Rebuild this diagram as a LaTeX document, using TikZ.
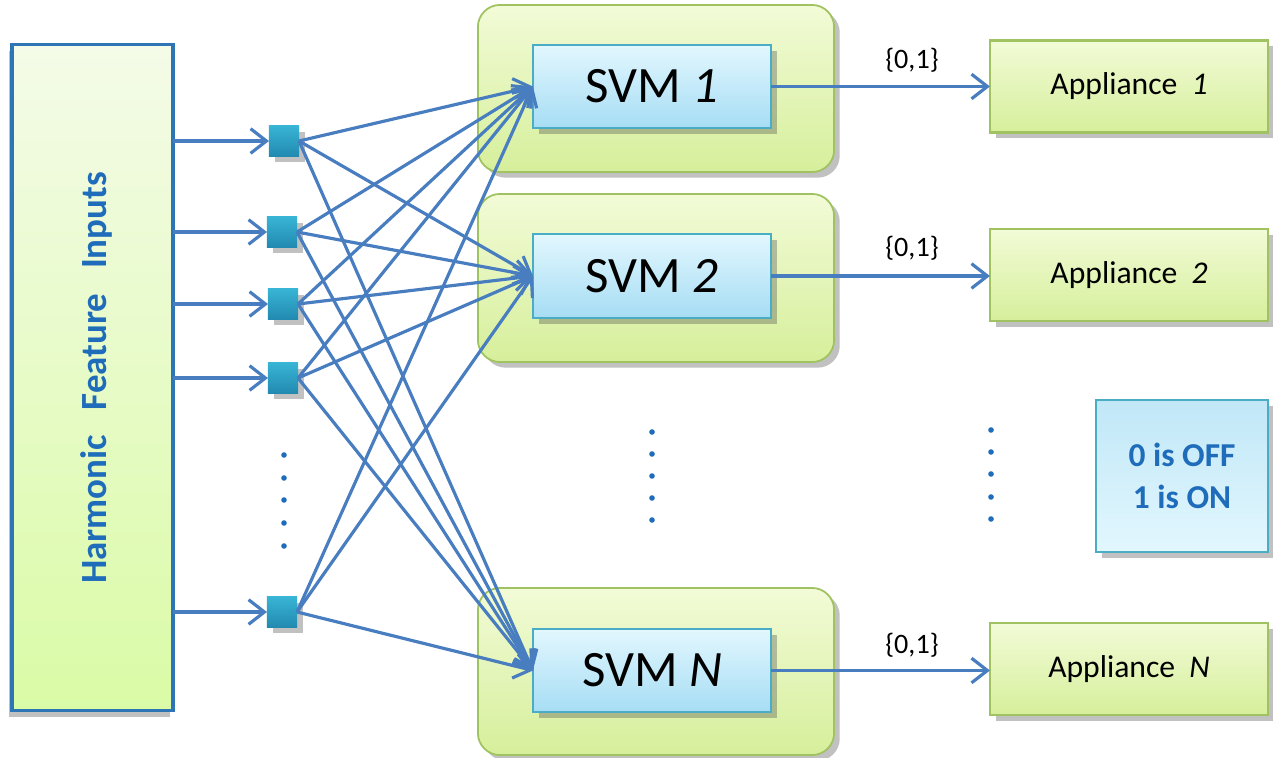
\documentclass[tikz,border=0pt]{standalone}
\usepackage{fontspec}
\setmainfont{Carlito}
\usetikzlibrary{arrows.meta,shadows}
\definecolor{lnblue}{RGB}{72,125,192}
\definecolor{txtblue}{RGB}{30,108,186}
\definecolor{grnborder}{RGB}{160,194,96}
\definecolor{grntop}{RGB}{242,251,215}
\definecolor{grnbot}{RGB}{214,239,155}
\definecolor{bluborder}{RGB}{75,172,198}
\definecolor{blutop}{RGB}{226,247,254}
\definecolor{blubot}{RGB}{166,221,244}
\definecolor{sqtop}{RGB}{56,180,212}
\definecolor{sqbot}{RGB}{34,138,176}
\definecolor{leftborder}{RGB}{46,117,182}
\definecolor{lefttop}{RGB}{244,251,232}
\definecolor{leftbot}{RGB}{218,251,166}
\tikzset{
  shad/.style={drop shadow={shadow xshift=1.6pt, shadow yshift=-1.6pt, opacity=0.35, fill=black!70}},
  leftbox/.style={draw=leftborder, line width=0.9pt, top color=lefttop, bottom color=leftbot, drop shadow={shadow xshift=-0.8pt, shadow yshift=-1.8pt, opacity=0.35, fill=black!70}, inner sep=0pt, outer sep=0pt},
  sq/.style={top color=sqtop, bottom color=sqbot, minimum width=0.3cm, minimum height=0.3cm, inner sep=0pt, outer sep=0pt, shad},
  outerbox/.style={draw=grnborder, line width=0.5pt, top color=grntop, bottom color=grnbot, rounded corners=0.22cm, minimum width=3.56cm, minimum height=1.67cm, inner sep=0pt, outer sep=0pt, shad},
  svmbox/.style={draw=bluborder, line width=0.7pt, top color=blutop, bottom color=blubot, minimum width=2.38cm, minimum height=0.83cm, inner sep=0pt, outer sep=0pt, font=\fontsize{14.5}{17}\selectfont, shad},
  appbox/.style={draw=grnborder, line width=0.6pt, top color=grntop, bottom color=grnbot, minimum width=2.78cm, minimum height=0.92cm, inner sep=0pt, outer sep=0pt, font=\fontsize{9}{11}\selectfont, shad},
  legbox/.style={draw=bluborder, line width=0.6pt, top color=blubot!70!white, bottom color=blutop, minimum width=1.72cm, minimum height=1.52cm, inner sep=0pt, outer sep=0pt, align=center, text=txtblue, font=\fontsize{9.5}{12}\selectfont\bfseries, shad},
  arr/.style={draw=lnblue, line width=0.9pt, -{Straight Barb[length=4.5pt,width=7pt,line width=0.9pt]}},
  lbl/.style={font=\fontsize{8}{10}\selectfont, inner sep=0pt},
  dotc/.style={fill=txtblue}
}
\begin{document}
\begin{tikzpicture}[x=0.01cm, y=-0.01cm]
\useasboundingbox (0,0) rectangle (1273,758);
% left input box
\node[leftbox, minimum width=1.61cm, minimum height=6.65cm] (inp) at (92.5,377.5) {};
\node[rotate=90, text=txtblue, font=\fontsize{10.5}{12}\selectfont\bfseries, inner sep=0pt] (inptxt) at (96,378)
  {Harmonic\hspace{7pt}Feature\hspace{7pt}Inputs};
% squares
\node[sq] (s1) at (284,141) {};
\node[sq] (s2) at (282,232) {};
\node[sq] (s3) at (283,304) {};
\node[sq] (s4) at (283,378) {};
\node[sq] (s5) at (282,612) {};
\foreach \s in {s1,s2,s3,s4,s5}{
  \draw[arr] (inp.east |- \s) -- (\s.west);
}
\foreach \yy in {455,478,500,523,546}{ \fill[dotc] (284,\yy) circle (2.8); }
% SVM groups
\node[outerbox] (o1) at (656,88.5) {};
\node[outerbox, minimum height=1.68cm] (o2) at (656,278) {};
\node[outerbox] (oN) at (656,671.5) {};
\node[svmbox] (i1) at (652,86.5) {SVM \textit{1}};
\node[svmbox, minimum height=0.84cm] (i2) at (652,276) {SVM \textit{2}};
\node[svmbox] (iN) at (652,670.5) {SVM \textit{N}};
\foreach \yy in {432,454,476,498,520}{ \fill[dotc] (652,\yy) circle (2.8); }
% fan connections
\foreach \s in {s1,s2,s3,s4,s5}{
  \foreach \t in {i1,i2,iN}{
    \draw[arr] (\s.east) -- (\t.west);
  }
}
% appliances
\node[appbox] (a1) at (1129,86.5) {Appliance\hspace{4pt}\textit{1}};
\node[appbox] (a2) at (1129,275) {Appliance\hspace{4pt}\textit{2}};
\node[appbox] (aN) at (1129,669) {Appliance\hspace{4pt}\textit{N}};
\draw[arr] (i1.east) -- (a1.west |- i1.east);
\draw[arr] (i2.east) -- (a2.west |- i2.east);
\draw[arr] (iN.east) -- (aN.west |- iN.east);
\node[lbl] (l1) at (912,60) {\{0,1\}};
\node[lbl] (l2) at (912,248) {\{0,1\}};
\node[lbl] (lN) at (912,645) {\{0,1\}};
\foreach \yy in {430,452,474,497,519}{ \fill[dotc] (991,\yy) circle (2.8); }
% legend
\node[legbox] (leg) at (1182,476) {0 is OFF\\1 is ON};
\end{tikzpicture}
\end{document}
